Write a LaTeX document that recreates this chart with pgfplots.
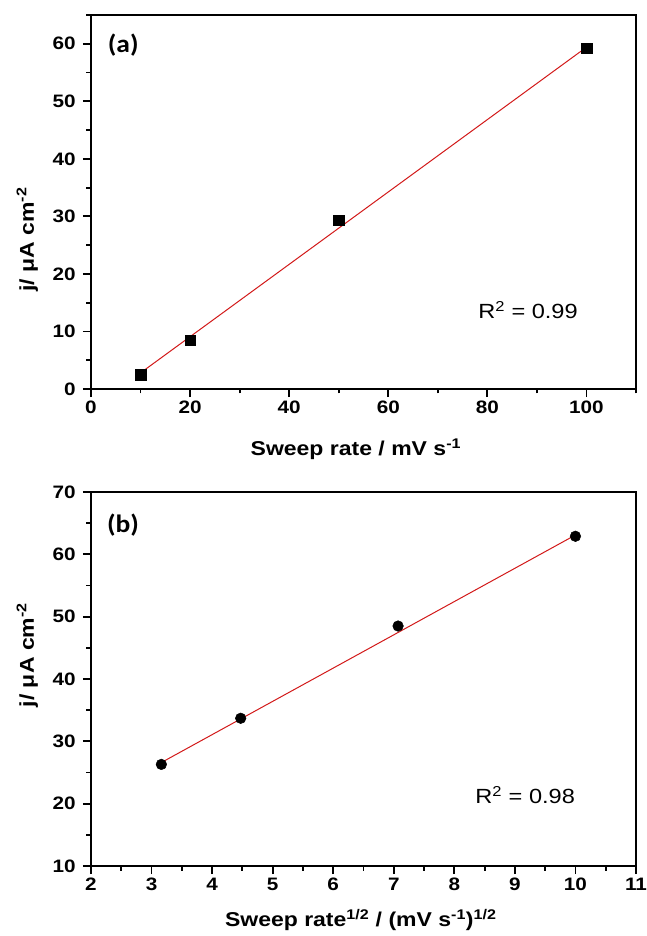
\documentclass[border=0pt]{standalone}
\usepackage{fontspec}
\setmainfont{Liberation Sans}[FakeStretch=1.15]
\newfontfamily\calibri{Carlito}[FakeStretch=1.1]
\usepackage{pgfplots}
\pgfplotsset{compat=1.18}
\definecolor{fitred}{RGB}{210,25,25}
\pgfplotsset{myaxis/.style={
  scale only axis, width=545pt, height=374pt,
  line width=2pt,
  tick style={line width=1.8pt, black},
  major tick length=8pt, minor tick length=4.5pt,
  tick align=outside, tick pos=left,
  /pgf/number format/assume math mode=true,
  ticklabel style={font=\fontsize{18}{18}\selectfont\bfseries},
  yticklabel style={xshift=-3pt},
  label style={font=\fontsize{20}{20}\selectfont\bfseries},
}}
\begin{document}
\begin{tikzpicture}
\useasboundingbox (-91pt,-547pt) rectangle (556pt,389pt);
% ---------------- (a)
\begin{axis}[myaxis, at={(0,0)}, anchor=south west,
  xmin=0, xmax=110, ymin=0, ymax=65,
  xtick={0,20,...,100}, minor xtick={10,30,...,110},
  ytick={0,10,...,60}, minor ytick={5,15,...,65},
  xlabel={Sweep rate / mV s\textsuperscript{-1}},
  ylabel={j/ μA cm\textsuperscript{-2}},
  xlabel style={at={(axis description cs:0.486,-0.179)}, anchor=base},
  ylabel style={at={(axis description cs:-0.117,0.40)}, anchor=center},
]
\addplot[only marks, mark=square*, mark size=5.3pt, black, line width=0.5pt] coordinates {
  (10,2.5) (20,8.5) (50,29.3) (100,59.2)};
\addplot[fitred, line width=1pt, no marks] coordinates {(10,2.8) (100,59.4)};
\node[font=\fontsize{20.5}{20.5}\selectfont] at (axis cs:88.2,13.7) {R\textsuperscript{2} = 0.99};
\node[font=\calibri\fontsize{25}{25}\selectfont\bfseries] at (axis cs:6.5,59.8) {(a)};
\end{axis}
% ---------------- (b)
\begin{axis}[myaxis, at={(0,-477pt)}, anchor=south west,
  xmin=2, xmax=11, ymin=10, ymax=70,
  xtick={2,3,...,11}, minor xtick={2.5,3.5,...,10.5},
  ytick={10,20,...,70}, minor ytick={15,25,...,65},
  xlabel={Sweep rate\textsuperscript{1/2} / (mV s\textsuperscript{-1})\textsuperscript{1/2}},
  ylabel={j/ μA cm\textsuperscript{-2}},
  xlabel style={at={(axis description cs:0.495,-0.163)}, anchor=base},
  ylabel style={at={(axis description cs:-0.117,0.564)}, anchor=center},
]
\addplot[only marks, mark=*, mark size=5.3pt, black, line width=0.5pt] coordinates {
  (3.162,26.3) (4.472,33.7) (7.071,48.5) (10,62.9)};
\addplot[fitred, line width=1pt, no marks] coordinates {(3.162,26.6) (10,63.1)};
\node[font=\fontsize{20.5}{20.5}\selectfont] at (axis cs:9.17,21.4) {R\textsuperscript{2} = 0.98};
\node[font=\calibri\fontsize{25}{25}\selectfont\bfseries] at (axis cs:2.53,64.7) {(b)};
\end{axis}
\end{tikzpicture}
\end{document}
